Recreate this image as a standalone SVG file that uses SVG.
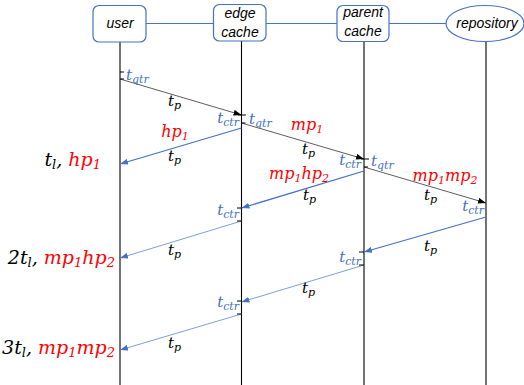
<svg xmlns="http://www.w3.org/2000/svg" width="524" height="385" viewBox="0 0 524 385">
<style>
.node{fill:#fff;stroke:#4472C4;stroke-width:1.2}
.link{stroke:#4472C4;stroke-width:1.2;fill:none}
.life{stroke:#000;stroke-width:1.1;fill:none}
.tick{stroke:#000;stroke-width:1.2;fill:none}
.nt{font-family:"Liberation Sans",Arial,sans-serif;font-style:italic;font-size:14px;fill:#000;text-anchor:middle}
.m{font-family:"DejaVu Serif",serif;font-style:italic;font-size:15px}
.b{fill:#4472C4}
.k{fill:#000}
.r{fill:#FF0000}
.s{font-size:11px}
.big{font-family:"DejaVu Serif",serif;font-style:italic;font-size:19px;text-anchor:end}
.red{font-family:"DejaVu Serif",serif;font-style:italic;font-size:16px;fill:#FF0000;text-anchor:middle}
.ab{stroke:#333;stroke-width:0.8;fill:none;marker-end:url(#ak)}
.bb{stroke:#4472C4;stroke-width:1.3;fill:none;marker-end:url(#abl)}
.bt{stroke:#5B87D0;stroke-width:0.8;fill:none;marker-end:url(#abl)}
</style>
<defs>
<marker id="ak" viewBox="0 0 8 6" refX="8" refY="3" markerWidth="8" markerHeight="6" markerUnits="userSpaceOnUse" orient="auto"><path d="M0,0 L8,3 L0,6 z" fill="#000"/></marker>
<marker id="abl" viewBox="0 0 8 6" refX="8" refY="3" markerWidth="8" markerHeight="6" markerUnits="userSpaceOnUse" orient="auto"><path d="M0,0 L8,3 L0,6 z" fill="#4472C4"/></marker>
</defs>
<rect width="524" height="385" fill="#fff"/>
<g id="lifelines">
<line class="life" x1="120" y1="42" x2="120" y2="385"/>
<line class="life" x1="241.5" y1="41" x2="241.5" y2="385"/>
<line class="life" x1="364" y1="41" x2="364" y2="385"/>
<line class="life" x1="486" y1="41" x2="486" y2="385" stroke="#555"/>
</g>
<g id="links">
<line class="link" x1="146" y1="23.5" x2="213" y2="23.5"/>
<line class="link" x1="266" y1="23.5" x2="337" y2="23.5"/>
<line class="link" x1="389" y1="23.5" x2="446" y2="23.5"/>
</g>
<g id="user"><rect class="node" x="93" y="5.5" width="53" height="36.5" rx="6"/><text class="nt" x="120" y="28">user</text></g>
<g id="edge"><rect class="node" x="213.5" y="4.5" width="52.5" height="36.5" rx="6"/><text class="nt" x="240" y="18">edge</text><text class="nt" x="240" y="37">cache</text></g>
<g id="parent"><rect class="node" x="337" y="5.5" width="52" height="36" rx="6"/><text class="nt" x="363" y="17">parent</text><text class="nt" x="363" y="36">cache</text></g>
<g id="repository"><ellipse class="node" cx="485" cy="23.5" rx="39" ry="18"/><text class="nt" x="487" y="28">repository</text></g>
<g id="connectors">
<line class="ab" x1="120" y1="79" x2="241.5" y2="115"/>
<line class="bb" x1="241.5" y1="128" x2="120" y2="164"/>
<line class="ab" x1="241.5" y1="123" x2="364" y2="159"/>
<line class="bb" x1="364" y1="171" x2="241.5" y2="208"/>
<line class="ab" x1="364" y1="167" x2="486" y2="203"/>
<line class="bb" x1="486" y1="217" x2="364" y2="252"/>
<line class="bt" x1="241.5" y1="221" x2="120" y2="258"/>
<line class="bt" x1="364" y1="265" x2="241.5" y2="302"/>
<line class="bt" x1="241.5" y1="314" x2="120" y2="350"/>
</g>
<g id="ticks">
<path class="tick" d="M120,72 h4 M120,79 h4"/>
<path class="tick" d="M238,115 h8 M241.5,123 h4"/>
<path class="tick" d="M361,159 h8 M364,167 h4"/>
<path class="tick" d="M237,208 h4.5 M237,221 h4.5"/>
<path class="tick" d="M359,252 h5 M359,265 h5"/>
<path class="tick" d="M237,301 h4.5 M237,314 h4.5"/>
</g>
<g id="labels">
<text class="m b" x="126" y="80">t<tspan class="s" dy="3">qtr</tspan></text>
<text class="m b" x="239" y="123" text-anchor="end">t<tspan class="s" dy="3">ctr</tspan></text>
<text class="m b" x="249" y="124">t<tspan class="s" dy="3">qtr</tspan></text>
<text class="m b" x="361" y="165" text-anchor="end">t<tspan class="s" dy="3">ctr</tspan></text>
<text class="m b" x="371" y="166">t<tspan class="s" dy="3">qtr</tspan></text>
<text class="m b" x="484" y="211" text-anchor="end">t<tspan class="s" dy="3">ctr</tspan></text>
<text class="m b" x="239" y="215" text-anchor="end">t<tspan class="s" dy="3">ctr</tspan></text>
<text class="m b" x="361" y="262" text-anchor="end">t<tspan class="s" dy="3">ctr</tspan></text>
<text class="m b" x="239" y="307" text-anchor="end">t<tspan class="s" dy="3">ctr</tspan></text>
<text class="m k" x="168" y="106">t<tspan class="s" dy="3">p</tspan></text>
<text class="m k" x="168" y="161">t<tspan class="s" dy="3">p</tspan></text>
<text class="m k" x="302" y="154">t<tspan class="s" dy="3">p</tspan></text>
<text class="m k" x="303" y="200">t<tspan class="s" dy="3">p</tspan></text>
<text class="m k" x="424" y="200">t<tspan class="s" dy="3">p</tspan></text>
<text class="m k" x="424" y="251">t<tspan class="s" dy="3">p</tspan></text>
<text class="m k" x="168" y="255">t<tspan class="s" dy="3">p</tspan></text>
<text class="m k" x="302" y="293">t<tspan class="s" dy="3">p</tspan></text>
<text class="m k" x="168" y="348">t<tspan class="s" dy="3">p</tspan></text>
<text class="red" x="175" y="137">hp<tspan font-size="11px" dy="3">1</tspan></text>
<text class="red" x="307" y="130">mp<tspan font-size="11px" dy="3">1</tspan></text>
<text class="red" x="299" y="179">mp<tspan font-size="11px" dy="3">1</tspan><tspan dy="-3">hp</tspan><tspan font-size="11px" dy="3">2</tspan></text>
<text class="red" x="445" y="181">mp<tspan font-size="11px" dy="3">1</tspan><tspan dy="-3">mp</tspan><tspan font-size="11px" dy="3">2</tspan></text>
<text class="big" x="101" y="166"><tspan class="k">t</tspan><tspan class="k" font-size="13px" dy="3">l</tspan><tspan class="k" dy="-3">, </tspan><tspan class="r">hp</tspan><tspan class="r" font-size="13px" dy="3">1</tspan></text>
<text class="big" x="115" y="264"><tspan class="k">2t</tspan><tspan class="k" font-size="13px" dy="3">l</tspan><tspan class="k" dy="-3">, </tspan><tspan class="r">mp</tspan><tspan class="r" font-size="13px" dy="3">1</tspan><tspan class="r" dy="-3">hp</tspan><tspan class="r" font-size="13px" dy="3">2</tspan></text>
<text class="big" x="115" y="354"><tspan class="k">3t</tspan><tspan class="k" font-size="13px" dy="3">l</tspan><tspan class="k" dy="-3">, </tspan><tspan class="r">mp</tspan><tspan class="r" font-size="13px" dy="3">1</tspan><tspan class="r" dy="-3">mp</tspan><tspan class="r" font-size="13px" dy="3">2</tspan></text>
</g>
</svg>
